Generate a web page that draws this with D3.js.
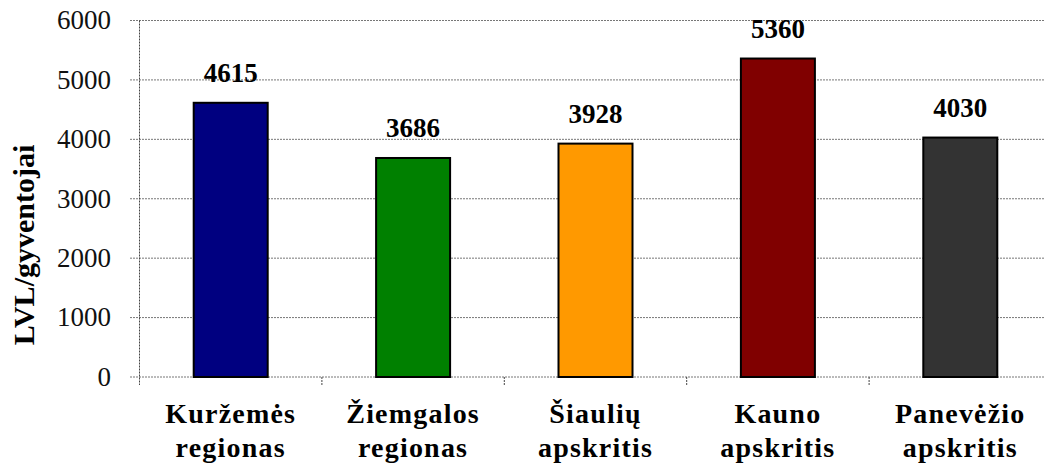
<!DOCTYPE html>
<html><head><meta charset="utf-8">
<script src="https://cdn.jsdelivr.net/npm/d3@7"></script>
<style>body{margin:0;background:#fff}svg{display:block}text{font-family:"Liberation Serif","Times New Roman",serif}</style>
</head><body><svg id="c" width="1045" height="465"></svg>
<script>
const categories = [["Kuržemės","regionas"],["Žiemgalos","regionas"],["Šiaulių","apskritis"],["Kauno","apskritis"],["Panevėžio","apskritis"]];
const values = [4615, 3686, 3928, 5360, 4030];
const colors = ["#000080","#008000","#FF9900","#800000","#333333"];
const yTicks = [0,1000,2000,3000,4000,5000,6000];
const yTitle = "LVL/gyventojai";

(function(){
const svg = d3.select("#c");
const mLeft = 139.5, mRight = 139.5 + 5*182.4, mTop = 20.5, mBottom = 377;
const x = d3.scaleBand().domain(d3.range(categories.length)).range([mLeft, mRight]).paddingInner(0).paddingOuter(0);
const y = d3.scaleLinear().domain([0,6000]).range([mBottom, mTop]);

svg.append("g").selectAll("line").data(yTicks).join("line")
  .attr("x1", 130).attr("x2", 1045)
  .attr("y1", d=>y(d)).attr("y2", d=>y(d))
  .attr("stroke", "#777").attr("stroke-width", 1).attr("stroke-dasharray","2,1");

svg.append("line").attr("x1", mLeft).attr("x2", mLeft).attr("y1", mTop).attr("y2", mBottom+8)
  .attr("stroke","#444").attr("stroke-dasharray","2,1");

svg.append("g").selectAll("line").data(d3.range(1, categories.length)).join("line")
  .attr("x1", d=>x(d)).attr("x2", d=>x(d)).attr("y1", mBottom).attr("y2", mBottom+8)
  .attr("stroke","#444").attr("stroke-dasharray","2,1");

svg.append("g").selectAll("text").data(yTicks).join("text")
  .attr("x", 111).attr("y", d=>y(d)).attr("dy","0.33em")
  .attr("text-anchor","end").attr("font-size", 27)
  .attr("fill","#111").text(d=>d);

const bw = 74;
svg.append("g").selectAll("rect").data(values).join("rect")
  .attr("x", (d,i)=>x(i)+x.bandwidth()/2-bw/2).attr("width", bw)
  .attr("y", d=>y(d)).attr("height", d=>y(0)-y(d))
  .attr("fill", (d,i)=>colors[i]).attr("stroke","#000").attr("stroke-width",2);

svg.append("g").selectAll("text").data(values).join("text")
  .attr("x", (d,i)=>x(i)+x.bandwidth()/2).attr("y", d=>y(d)-21)
  .attr("text-anchor","middle").attr("font-size", 27).attr("font-weight","bold")
  .attr("fill","#000").text(d=>d);

const cl = svg.append("g").selectAll("text").data(categories).join("text")
  .attr("text-anchor","middle").attr("font-size", 28).attr("font-weight","bold")
  .attr("letter-spacing", 1.2).attr("fill","#000");
cl.each(function(d,i){
  const t = d3.select(this);
  d.forEach((line,j)=>{
    t.append("tspan").attr("x", x(i)+x.bandwidth()/2).attr("y", 423 + j*34).text(line);
  });
});

svg.append("text").attr("transform", `translate(34,245) rotate(-90)`)
  .attr("text-anchor","middle").attr("font-size", 30).attr("font-weight","bold")
  .attr("fill","#000").text(yTitle);
})();
</script></body></html>
